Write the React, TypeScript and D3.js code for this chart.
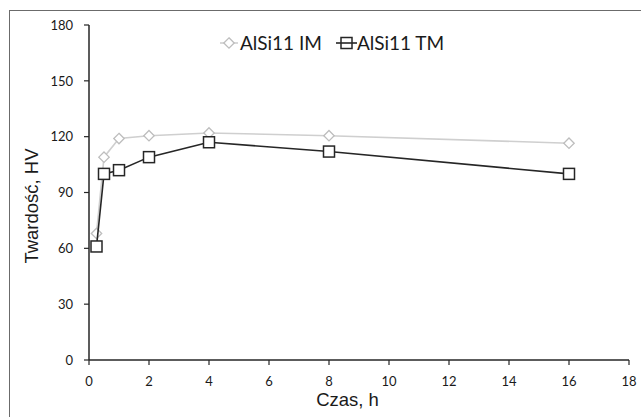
import React from 'react';
import * as d3 from 'd3';

// hours of ageing
const czas = [0.25, 0.5, 1, 2, 4, 8, 16];
const twardoscIM = [68, 109, 119, 120.5, 122, 120.5, 116.5];
const twardoscTM = [61, 100, 102, 109, 117, 112, 100];

const xTicks = [0, 2, 4, 6, 8, 10, 12, 14, 16, 18];
const yTicks = [0, 30, 60, 90, 120, 150, 180];

const seriesNames = ['AlSi11 IM', 'AlSi11 TM'];

const W = 641;
const H = 417;

export default function App() {
    const x = d3.scaleLinear().domain([0, 18]).range([89, 629]);
    const y = d3.scaleLinear().domain([0, 180]).range([360, 25]);

    const line = d3.line<number>()
        .x((_, i) => x(czas[i]))
        .y((d) => y(d));

    const axisColor = '#262626';
    const imColor = '#cfcfcf';
    const imMarker = '#bdbdbd';
    const tmColor = '#262626';

    const diamond = (cx: number, cy: number, r: number) =>
        `M${cx},${cy - r}L${cx + r},${cy}L${cx},${cy + r}L${cx - r},${cy}Z`;

    return (
        <svg
            width={W}
            height={H}
            style={{ position: 'absolute', left: 0, top: 0, background: '#fff' }}
        >
            {/* outer frame */}
            <rect x={9.5} y={10.5} width={640} height={420} fill="none" stroke="#6b6b6b" strokeWidth={1} />

            {/* y axis */}
            <line x1={x(0)} x2={x(0)} y1={y(180)} y2={y(0)} stroke={axisColor} strokeWidth={1.5} />
            {yTicks.map((t) => (
                <g key={'y' + t}>
                    <line x1={x(0) - 5} x2={x(0)} y1={y(t)} y2={y(t)} stroke={axisColor} strokeWidth={1.2} />
                    <text
                        x={73}
                        y={y(t) + 4.7}
                        textAnchor="end"
                        fontFamily="Lato"
                        fontSize={13}
                        fill="#1a1a1a"
                    >
                        {t}
                    </text>
                </g>
            ))}

            {/* x axis */}
            <line x1={x(0)} x2={x(18)} y1={y(0)} y2={y(0)} stroke={axisColor} strokeWidth={1.5} />
            {xTicks.map((t) => (
                <g key={'x' + t}>
                    <line x1={x(t)} x2={x(t)} y1={y(0)} y2={y(0) + 5} stroke={axisColor} strokeWidth={1.2} />
                    <text
                        x={x(t)}
                        y={386}
                        textAnchor="middle"
                        fontFamily="Lato"
                        fontSize={13}
                        fill="#1a1a1a"
                    >
                        {t}
                    </text>
                </g>
            ))}

            {/* axis titles */}
            <text x={347.5} y={406} textAnchor="middle" fontFamily="Liberation Sans" fontSize={18.5} fill="#1a1a1a">
                Czas, h
            </text>
            <text
                transform="translate(38,206) rotate(-90)"
                textAnchor="middle"
                fontFamily="Liberation Sans"
                fontSize={18.5}
                fill="#1a1a1a"
            >
                Twardość, HV
            </text>

            {/* series IM */}
            <path d={line(twardoscIM) || ''} fill="none" stroke={imColor} strokeWidth={1.6} />
            {twardoscIM.map((v, i) => (
                <path key={'im' + i} d={diamond(x(czas[i]), y(v), 5.2)} fill="#fff" stroke={imMarker} strokeWidth={1.3} />
            ))}

            {/* series TM */}
            <path d={line(twardoscTM) || ''} fill="none" stroke={tmColor} strokeWidth={1.6} />
            {twardoscTM.map((v, i) => (
                <rect
                    key={'tm' + i}
                    x={x(czas[i]) - 5.5}
                    y={y(v) - 5.5}
                    width={11}
                    height={11}
                    fill="#fff"
                    stroke={tmColor}
                    strokeWidth={1.5}
                />
            ))}

            {/* legend */}
            <line x1={220} x2={238} y1={43} y2={43} stroke={imColor} strokeWidth={1.6} />
            <path d={diamond(229, 43, 5.2)} fill="#fff" stroke={imMarker} strokeWidth={1.3} />
            <text x={240} y={49.5} fontFamily="Lato" fontSize={19} fill="#1a1a1a">
                {seriesNames[0]}
            </text>
            <line x1={336} x2={357} y1={43} y2={43} stroke={tmColor} strokeWidth={1.6} />
            <rect x={341} y={37.5} width={11} height={11} fill="none" stroke={tmColor} strokeWidth={1.5} />
            <text x={357} y={49.5} fontFamily="Lato" fontSize={19} fill="#1a1a1a">
                {seriesNames[1]}
            </text>
        </svg>
    );
}
